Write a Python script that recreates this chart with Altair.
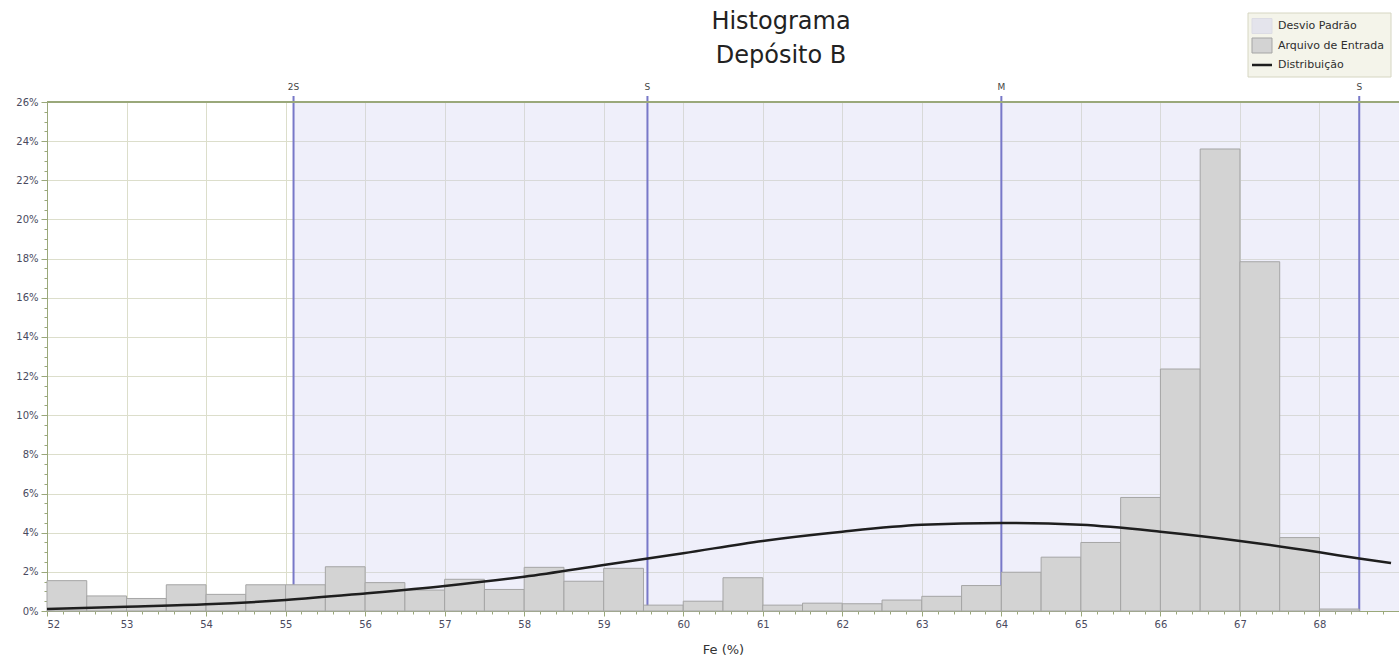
import altair as alt
import pandas as pd

# ---------------- data ----------------
bin_start = [52.0, 52.5, 53.0, 53.5, 54.0, 54.5, 55.0, 55.5, 56.0, 56.5, 57.0,
             57.5, 58.0, 58.5, 59.0, 59.5, 60.0, 60.5, 61.0, 61.5, 62.0, 62.5,
             63.0, 63.5, 64.0, 64.5, 65.0, 65.5, 66.0, 66.5, 67.0, 67.5, 68.0]
bin_width = 0.5
pct = [1.55, 0.77, 0.64, 1.34, 0.85, 1.34, 1.34, 2.26, 1.45, 1.07, 1.62,
       1.10, 2.23, 1.52, 2.18, 0.30, 0.50, 1.70, 0.30, 0.40, 0.37, 0.56,
       0.75, 1.30, 1.98, 2.75, 3.50, 5.80, 12.36, 23.60, 17.84, 3.75, 0.10]

curve_x = [52, 53, 54, 55, 56, 57, 58, 59, 60, 61, 62, 63, 64, 65, 66, 67, 68, 68.5, 68.9]
curve_y = [0.10, 0.22, 0.34, 0.56, 0.90, 1.28, 1.75, 2.35, 2.95, 3.58, 4.05,
           4.40, 4.50, 4.40, 4.05, 3.58, 3.00, 2.68, 2.45]

stat_labels = ["2S", "S", "M", "S"]
stat_values = [55.1, 59.55, 64.0, 68.5]

title_lines = ["Histograma", "Depósito B"]
legend_labels = ["Desvio Padrão", "Arquivo de Entrada", "Distribuição"]

X_MIN, X_MAX = 52, 69
Y_MAX = 26
W, H = 1352, 509

bars = pd.DataFrame({"x0": bin_start,
                     "x1": [b + bin_width for b in bin_start],
                     "pct": pct})
curve = pd.DataFrame({"x": curve_x, "y": curve_y})
stats = pd.DataFrame({"label": stat_labels, "x": stat_values})
shade = pd.DataFrame({"x0": [stat_values[0]], "x1": [X_MAX]})
legend_df = pd.DataFrame({"label": legend_labels})
title_df = pd.DataFrame({"line": title_lines})

xscale = alt.Scale(domain=[X_MIN, X_MAX], nice=False, zero=False)
yscale = alt.Scale(domain=[0, Y_MAX], nice=False)

x_ticks = [round(52 + 0.2 * i, 1) for i in range(85)]
y_ticks = [i * 0.5 for i in range(53)]

AX = "#9aa87a"
LBL = "#4a4a5e"
FONT = "DejaVu Sans"
xmaj = "abs(datum.value - round(datum.value)) < 0.01"
ymaj = "datum.value % 2 == 0"

x_axis = alt.Axis(
    values=x_ticks, title="Fe (%)",
    labelExpr=f"{xmaj} ? format(datum.value, 'd') : ''",
    labelOverlap=False, labelFontSize=10, labelColor=LBL, labelFont=FONT,
    labelPadding=3,
    tickSize={"condition": {"test": xmaj, "value": 5}, "value": 3},
    gridOpacity={"condition": {"test": xmaj, "value": 1}, "value": 0},
    gridColor="#dcdecb", tickColor=AX, domainColor=AX,
    titleFontSize=13, titleFontWeight="normal", titleColor="#333333",
    titleFont=FONT, titlePadding=14,
)
y_axis = alt.Axis(
    values=y_ticks, title=None,
    labelExpr=f"{ymaj} ? datum.value + '%' : ''",
    labelOverlap=False, labelFontSize=10, labelColor=LBL, labelFont=FONT,
    labelPadding=3,
    tickSize={"condition": {"test": ymaj, "value": 6}, "value": 3},
    gridOpacity={"condition": {"test": ymaj, "value": 1}, "value": 0},
    gridColor="#dcdecb", tickColor=AX, domainColor=AX,
)

shade_layer = alt.Chart(shade).mark_rect(color="#d0d0f0", opacity=0.35).encode(
    x=alt.X("x0:Q", scale=xscale, axis=x_axis),
    x2="x1:Q",
    y=alt.value(0), y2=alt.value(H),
)

stat_rules = alt.Chart(stats).mark_rule(color="#7878c8", strokeWidth=2).encode(
    x=alt.X("x:Q", scale=xscale, axis=x_axis),
    y=alt.value(-6), y2=alt.value(H),
)

stat_text = alt.Chart(stats).mark_text(fontSize=9, font=FONT, color="#444444",
                                       baseline="middle").encode(
    x=alt.X("x:Q", scale=xscale, axis=x_axis),
    y=alt.value(-15),
    text="label:N",
)

bar_layer = alt.Chart(bars).mark_rect(color="#d3d3d3", stroke="#a5a5a5",
                                      strokeWidth=1).encode(
    x=alt.X("x0:Q", scale=xscale, axis=x_axis),
    x2="x1:Q",
    y=alt.Y("pct:Q", scale=yscale, axis=y_axis),
    y2=alt.datum(0),
)

curve_layer = alt.Chart(curve).mark_line(color="#1e1e1e", strokeWidth=2.5,
                                         interpolate="monotone").encode(
    x=alt.X("x:Q", scale=xscale, axis=x_axis),
    y=alt.Y("y:Q", scale=yscale, axis=y_axis),
)

top_border = alt.Chart(shade).mark_rule(color=AX, strokeWidth=2).encode(
    x=alt.value(0), x2=alt.value(W), y=alt.value(0),
)

# ---------------- title (text marks above the plot) ----------------
title_y = [-73, -39]
title_layers = []
for i, line in enumerate(title_lines):
    title_layers.append(
        alt.Chart(title_df).transform_filter(alt.datum.line == line)
        .mark_text(align="center", baseline="alphabetic", fontSize=24, font=FONT,
                   color="#222222")
        .encode(x=alt.value(734), y=alt.value(title_y[i]), text="line:N"))

# ---------------- legend (drawn as marks) ----------------
LX0, LX1, LY0, LY1 = 1201, 1344, -89, -25
row_y = [-76, -56.5, -37]
legend_layers = [
    alt.Chart(shade).mark_rect(fill="#f4f4ea", stroke="#d6d6c2", strokeWidth=1).encode(
        x=alt.value(LX0), x2=alt.value(LX1), y=alt.value(LY0), y2=alt.value(LY1)),
]
sym_styles = [
    {"fill": "#e4e4ec", "stroke": "#dcdce4"},
    {"fill": "#d3d3d3", "stroke": "#a5a5a5"},
]
for i, lab in enumerate(legend_labels):
    base = alt.Chart(legend_df).transform_filter(alt.datum.label == lab)
    if i < 2:
        legend_layers.append(
            base.mark_rect(strokeWidth=1, **sym_styles[i]).encode(
                x=alt.value(LX0 + 4), x2=alt.value(LX0 + 24),
                y=alt.value(row_y[i] - 7.5), y2=alt.value(row_y[i] + 7.5)))
    else:
        legend_layers.append(
            base.mark_rule(color="#1e1e1e", strokeWidth=2.5).encode(
                x=alt.value(LX0 + 4), x2=alt.value(LX0 + 24),
                y=alt.value(row_y[i])))
    legend_layers.append(
        base.mark_text(align="left", baseline="middle", fontSize=11, font=FONT,
                       color="#2e2e2e").encode(
            x=alt.value(LX0 + 30), y=alt.value(row_y[i]), text="label:N"))

chart = alt.layer(
    shade_layer, stat_rules, stat_text, bar_layer, curve_layer, top_border,
    *title_layers, *legend_layers
).properties(
    width=W, height=H,
    autosize=alt.AutoSizeParams(type="none"),
    padding={"left": 47, "top": 102, "right": 0, "bottom": 49},
).configure_view(stroke=None).configure(background="white")

chart.save("out.html", embed_options={"renderer": "svg", "actions": False})
